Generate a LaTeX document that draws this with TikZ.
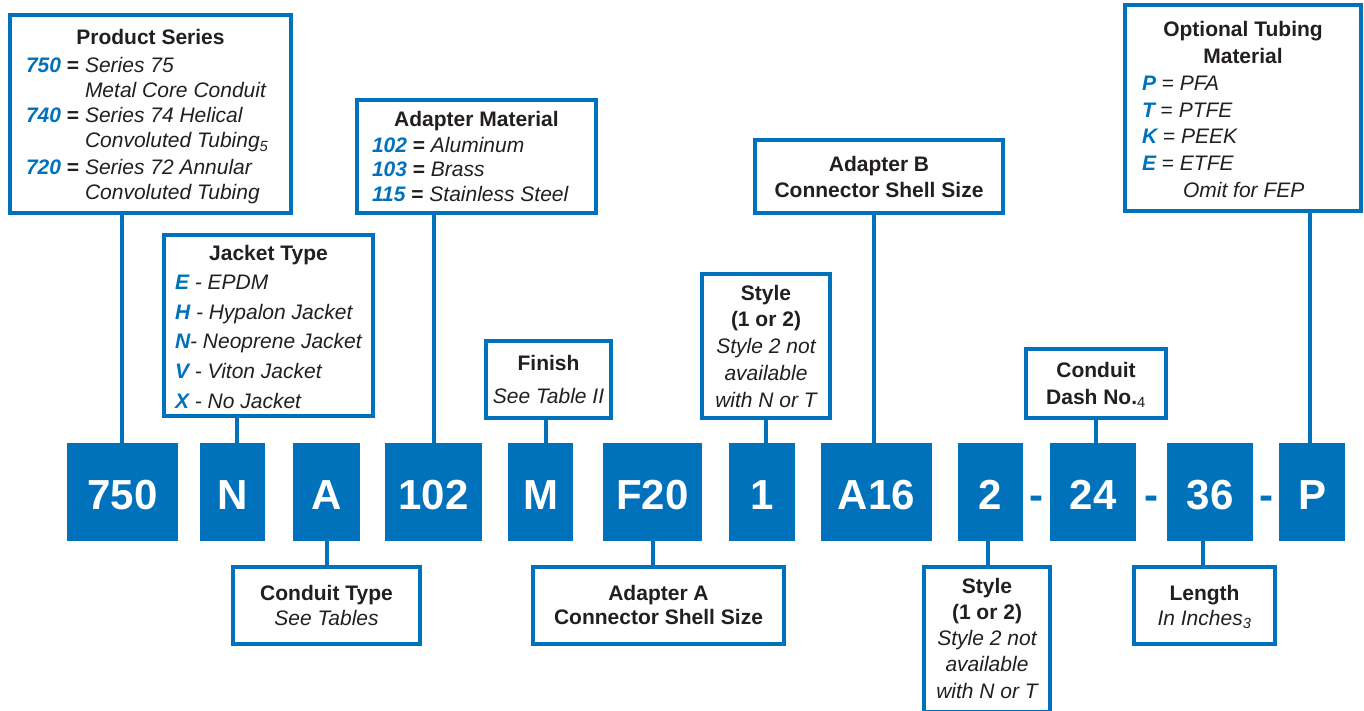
\documentclass[tikz,border=0pt]{standalone}
\usepackage{fontspec}
\setmainfont{Liberation Sans}
\definecolor{cblue}{RGB}{0,114,188}
\definecolor{ctext}{RGB}{35,31,32}
\newcommand\Cd[1]{\textcolor{cblue}{\bfseries\itshape #1}}
\newcommand\Ctr[1]{\par\hbox to\hsize{\hss#1\hss}}
\newcommand\Lft[2]{\par\hbox to\hsize{\hskip#1\relax #2\hss}}
\newcommand\Eq[1]{\makebox[59pt][l]{\Cd{#1} \textbf{=}}}
\begin{document}
\begin{tikzpicture}[x=1pt,y=-1pt,
  box/.style={draw=cblue, line width=3.6pt, fill=white, inner sep=0pt, outer sep=0pt, anchor=north west, text=ctext},
  codebox/.style={fill=cblue, text=white, inner sep=0pt, outer sep=0pt, anchor=north west, text height=66pt, text depth=32pt, font=\fontsize{42}{42}\selectfont\bfseries},
  dsh/.style={text=cblue, inner sep=0pt, anchor=base, font=\fontsize{42}{42}\selectfont\bfseries},
  conn/.style={draw=cblue, line width=3.6pt}]
\useasboundingbox (0,0) rectangle (1364,711);

% code boxes
\node[codebox, minimum width=111pt] (c750) at (67,443) {750};
\node[codebox, minimum width=65pt] (cN) at (200,443) {N};
\node[codebox, minimum width=67pt] (cA) at (293,443) {A};
\node[codebox, minimum width=97pt] (c102) at (385,443) {102};
\node[codebox, minimum width=65pt] (cM) at (508,443) {M};
\node[codebox, minimum width=99pt] (cF20) at (603,443) {F20};
\node[codebox, minimum width=66pt] (c1) at (729,443) {1};
\node[codebox, minimum width=111pt] (cA16) at (821,443) {A16};
\node[codebox, minimum width=65pt] (c2) at (958,443) {2};
\node[codebox, minimum width=86pt] (c24) at (1050,443) {24};
\node[codebox, minimum width=86pt] (c36) at (1167,443) {36};
\node[codebox, minimum width=66pt] (cP) at (1279,443) {P};
\node[dsh] (d1) at (1036.5,509) {-};
\node[dsh] (d2) at (1151.5,509) {-};
\node[dsh] (d3) at (1266,509) {-};

% label boxes
\node[box, text height=30pt, text depth=168pt] (ps) at (10,15) {\begin{minipage}[t]{281pt}\fontsize{21}{25}\selectfont
\Ctr{\bfseries Product Series}\vspace{3pt}
\Lft{16pt}{\Eq{750}\textit{Series 75}}
\Lft{75pt}{\textit{Metal Core Conduit}}
\Lft{16pt}{\Eq{740}\textit{Series 74 Helical}}
\Lft{75pt}{\textit{Convoluted Tubing\textsubscript{5}}}\vspace{2pt}
\Lft{16pt}{\Eq{720}\textit{Series 72 Annular}}
\Lft{75pt}{\textit{Convoluted Tubing}}
\end{minipage}};

\node[box, text height=25pt, text depth=156pt] (jk) at (164,235) {\begin{minipage}[t]{209pt}\fontsize{21}{29.6}\selectfont
\Ctr{\bfseries Jacket Type}
\Lft{11pt}{\Cd{E} \textit{- EPDM}}
\Lft{11pt}{\Cd{H} \textit{- Hypalon Jacket}}
\Lft{11pt}{\Cd{N}\textit{- Neoprene Jacket}}
\Lft{11pt}{\Cd{V} \textit{- Viton Jacket}}
\Lft{11pt}{\Cd{X} \textit{- No Jacket}}
\end{minipage}};

\node[box, text height=27pt, text depth=86pt] (am) at (357,100) {\begin{minipage}[t]{239pt}\fontsize{21}{24.5}\selectfont
\Ctr{\bfseries Adapter Material}\vspace{1pt}
\Lft{15pt}{\Cd{102} \textbf{=} \textit{Aluminum}}
\Lft{15pt}{\Cd{103} \textbf{=} \textit{Brass}}
\Lft{15pt}{\Cd{115} \textbf{=} \textit{Stainless Steel}}
\end{minipage}};

\node[box, text height=29pt, text depth=48pt] (fi) at (486,341) {\begin{minipage}[t]{125pt}\fontsize{21}{33}\selectfont
\Ctr{\bfseries Finish}
\Ctr{\itshape See Table II}
\end{minipage}};

\node[box, text height=26pt, text depth=118pt] (st1) at (702,274) {\begin{minipage}[t]{128pt}\fontsize{21}{26.75}\selectfont
\Ctr{\bfseries Style}
\Ctr{\bfseries (1 or 2)}
\Ctr{\itshape Style 2 not}
\Ctr{\itshape available}
\Ctr{\itshape with N or T}
\end{minipage}};

\node[box, text height=32pt, text depth=41pt] (ab) at (755,140) {\begin{minipage}[t]{248pt}\fontsize{21}{26}\selectfont
\Ctr{\bfseries Adapter B}
\Ctr{\bfseries Connector Shell Size}
\end{minipage}};

\node[box, text height=32pt, text depth=174pt] (ot) at (1125,5) {\begin{minipage}[t]{236pt}\fontsize{21}{26.7}\selectfont
\Ctr{\bfseries Optional Tubing}
\Ctr{\bfseries Material}
\Lft{17pt}{\Cd{P} = \textit{PFA}}
\Lft{17pt}{\Cd{T} = \textit{PTFE}}
\Lft{17pt}{\Cd{K} = \textit{PEEK}}
\Lft{17pt}{\Cd{E} = \textit{ETFE}}
\Lft{58pt}{\textit{Omit for FEP}}
\end{minipage}};

\node[box, text height=28pt, text depth=41pt] (cd) at (1026,349) {\begin{minipage}[t]{140pt}\fontsize{21}{27}\selectfont
\Ctr{\bfseries Conduit}
\Ctr{\bfseries Dash No.\textsubscript{\mdseries 4}}
\end{minipage}};

\node[box, text height=33pt, text depth=44pt] (ct) at (233,567) {\begin{minipage}[t]{187pt}\fontsize{21}{25}\selectfont
\Ctr{\bfseries Conduit Type}
\Ctr{\itshape See Tables}
\end{minipage}};

\node[box, text height=33pt, text depth=44pt] (aa) at (533,567) {\begin{minipage}[t]{251pt}\fontsize{21}{24.5}\selectfont
\Ctr{\bfseries Adapter A}
\Ctr{\bfseries Connector Shell Size}
\end{minipage}};

\node[box, text height=26pt, text depth=119pt] (st2) at (924,567) {\begin{minipage}[t]{126pt}\fontsize{21}{26.25}\selectfont
\Ctr{\bfseries Style}
\Ctr{\bfseries (1 or 2)}
\Ctr{\itshape Style 2 not}
\Ctr{\itshape available}
\Ctr{\itshape with N or T}
\end{minipage}};

\node[box, text height=33pt, text depth=44pt] (ln) at (1134,567) {\begin{minipage}[t]{141pt}\fontsize{21}{25}\selectfont
\Ctr{\bfseries Length}
\Ctr{\itshape In Inches\textsubscript{3}}
\end{minipage}};

% connector x positions
\coordinate (k750) at (122,0);
\coordinate (kN) at (237,0);
\coordinate (kA) at (327,0);
\coordinate (k102) at (434,0);
\coordinate (kM) at (546,0);
\coordinate (kF20) at (653,0);
\coordinate (k1) at (766,0);
\coordinate (kA16) at (874,0);
\coordinate (k2) at (988,0);
\coordinate (k24) at (1096,0);
\coordinate (k36) at (1203,0);
\coordinate (kP) at (1310,0);

\draw[conn] (k750 |- ps.south) -- (k750 |- c750.north);
\draw[conn] (kN |- jk.south) -- (kN |- cN.north);
\draw[conn] (k102 |- am.south) -- (k102 |- c102.north);
\draw[conn] (kM |- fi.south) -- (kM |- cM.north);
\draw[conn] (k1 |- st1.south) -- (k1 |- c1.north);
\draw[conn] (kA16 |- ab.south) -- (kA16 |- cA16.north);
\draw[conn] (k24 |- cd.south) -- (k24 |- c24.north);
\draw[conn] (kP |- ot.south) -- (kP |- cP.north);
\draw[conn] (kA |- cA.south) -- (kA |- ct.north);
\draw[conn] (kF20 |- cF20.south) -- (kF20 |- aa.north);
\draw[conn] (k2 |- c2.south) -- (k2 |- st2.north);
\draw[conn] (k36 |- c36.south) -- (k36 |- ln.north);
\end{tikzpicture}
\end{document}
